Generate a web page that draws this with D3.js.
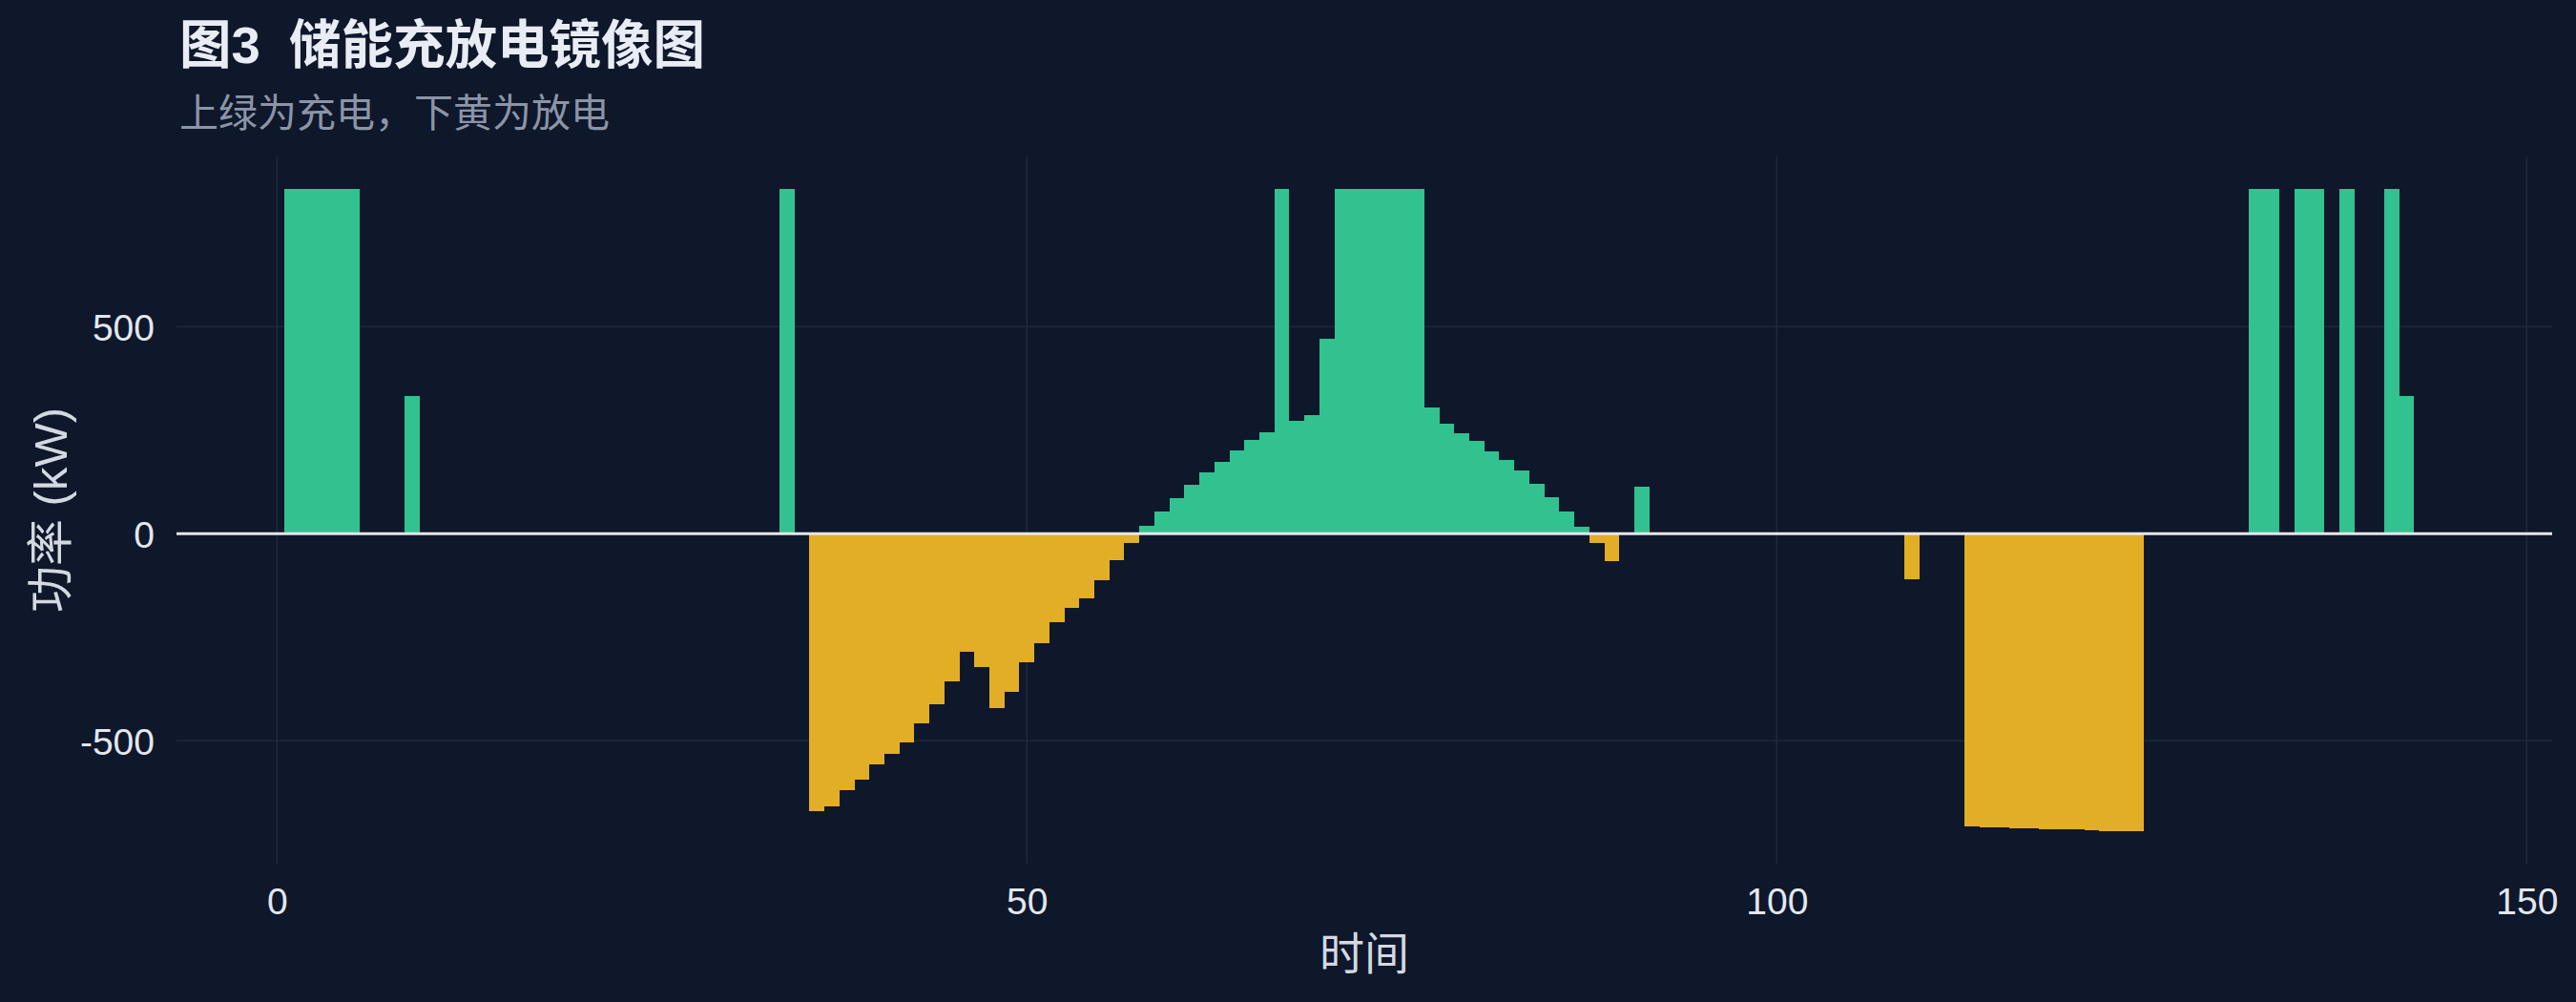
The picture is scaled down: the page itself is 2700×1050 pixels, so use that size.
<!DOCTYPE html>
<html>
<head>
<meta charset="utf-8">
<script src="https://cdn.jsdelivr.net/npm/d3@7"></script>
<style>
  html, body { margin: 0; padding: 0; background: #0f172a; }
  svg { display: block; }
</style>
</head>
<body>
<svg id="chart" width="2700" height="1050"></svg>
<script>
// ---- data ----
const titleText = "图3  储能充放电镜像图";
const subtitleText = "上绿为充电，下黄为放电";
const xLabel = "时间";
const yLabel = "功率 (kW)";
const xTicks = [0, 50, 100, 150];
const yTicks = [-500, 0, 500];
const xTickLabels = ["0", "50", "100", "150"];
const yTickLabels = ["-500", "0", "500"];

// time index 1..144
const timeSteps = [
  1,2,3,4,5,6,7,8,9,10,11,12,13,14,15,16,17,18,19,20,21,22,23,24,
  25,26,27,28,29,30,31,32,33,34,35,36,37,38,39,40,41,42,43,44,45,46,47,48,
  49,50,51,52,53,54,55,56,57,58,59,60,61,62,63,64,65,66,67,68,69,70,71,72,
  73,74,75,76,77,78,79,80,81,82,83,84,85,86,87,88,89,90,91,92,93,94,95,96,
  97,98,99,100,101,102,103,104,105,106,107,108,109,110,111,112,113,114,115,116,117,118,119,120,
  121,122,123,124,125,126,127,128,129,130,131,132,133,134,135,136,137,138,139,140,141,142,143,144
];

// storage power (kW): + charge, - discharge
const power = [
  // 1-24
  833, 833, 833, 833, 833, 0, 0, 0, 333, 0, 0, 0, 0, 0, 0, 0, 0, 0, 0, 0, 0, 0, 0, 0,
  // 25-48
  0, 0, 0, 0, 0, 0, 0, 0, 0, 833, 0, -669, -658, -619, -593, -558, -531, -503, -457, -411, -357, -284, -321, -420,
  // 49-72
  -383, -311, -265, -214, -180, -156, -112, -64, -22, 19, 54, 86, 118, 148, 173, 201, 226, 245, 833, 272, 286, 470, 833, 833,
  // 73-96
  833, 833, 833, 833, 304, 265, 242, 224, 199, 178, 153, 121, 88, 54, 17, -22, -66, 0, 114, 0, 0, 0, 0, 0,
  // 97-120
  0, 0, 0, 0, 0, 0, 0, 0, 0, 0, 0, 0, -110, 0, 0, 0, -707, -709, -709, -712, -712, -714, -714, -714,
  // 121-144
  -716, -719, -719, -719, 0, 0, 0, 0, 0, 0, 0, 833, 833, 0, 833, 833, 0, 833, 0, 0, 833, 333, 0, 0
];

// ---- styling ----
const W = 2700, H = 1050;
const panel = { left: 185, right: 2675, top: 164, bottom: 905 };
const colors = {
  bg: "#0f172a",
  grid: "#1e293b",
  charge: "#32c290",
  discharge: "#e2ae26",
  zero: "#e5e7eb",
  title: "#e8edf5",
  subtitle: "#8b95a7",
  tick: "#e2e8f0",
  axisTitle: "#d3d9e2"
};
const latin = "'Liberation Sans', Arial, 'Noto Sans CJK SC', sans-serif";
const cjk = "'Noto Sans CJK SC', 'Liberation Sans', sans-serif";

const data = timeSteps.map((t, i) => ({ t, v: power[i] }));

const svg = d3.select("#chart");
svg.append("rect").attr("width", W).attr("height", H).attr("fill", colors.bg);

// scales with ggplot-like 5% expansion
const xMin = d3.min(timeSteps) - 0.5, xMax = d3.max(timeSteps) + 0.5;
const xPad = (xMax - xMin) * 0.05;
const x = d3.scaleLinear().domain([xMin - xPad, xMax + xPad]).range([panel.left, panel.right]);

const vMin = Math.min(0, d3.min(power)), vMax = Math.max(0, d3.max(power));
const yPad = (vMax - vMin) * 0.05;
const y = d3.scaleLinear().domain([vMin - yPad, vMax + yPad]).range([panel.bottom, panel.top]);

// gridlines
const g = svg.append("g");
g.selectAll(".hgrid").data(yTicks).join("line")
  .attr("x1", panel.left).attr("x2", panel.right)
  .attr("y1", d => y(d)).attr("y2", d => y(d))
  .attr("stroke", colors.grid).attr("stroke-width", 1.6);
g.selectAll(".vgrid").data(xTicks).join("line")
  .attr("x1", d => x(d)).attr("x2", d => x(d))
  .attr("y1", panel.top).attr("y2", panel.bottom)
  .attr("stroke", colors.grid).attr("stroke-width", 1.6);

// bars
svg.append("g").selectAll("rect").data(data.filter(d => d.v !== 0)).join("rect")
  .attr("x", d => x(d.t - 0.5))
  .attr("width", d => x(d.t + 0.5) - x(d.t - 0.5))
  .attr("y", d => Math.min(y(0), y(d.v)))
  .attr("height", d => Math.abs(y(d.v) - y(0)))
  .attr("fill", d => d.v > 0 ? colors.charge : colors.discharge)
  .attr("shape-rendering", "crispEdges");

// zero line
svg.append("line")
  .attr("x1", panel.left).attr("x2", panel.right)
  .attr("y1", y(0)).attr("y2", y(0))
  .attr("stroke", colors.zero).attr("stroke-width", 3);

// axes (text only, like theme_minimal)
const xAxis = d3.axisBottom(x).tickValues(xTicks).tickSize(0).tickPadding(0)
  .tickFormat((d, i) => xTickLabels[i]);
const xg = svg.append("g").attr("transform", `translate(0,${panel.bottom})`).call(xAxis);
xg.select(".domain").remove();
xg.selectAll("text")
  .attr("y", 53).attr("dy", null)
  .attr("fill", colors.tick)
  .style("font-family", latin).style("font-size", "39px");

const yAxis = d3.axisLeft(y).tickValues(yTicks).tickSize(0).tickPadding(0)
  .tickFormat((d, i) => yTickLabels[i]);
const yg = svg.append("g").attr("transform", `translate(162,0)`).call(yAxis);
yg.select(".domain").remove();
yg.selectAll("text")
  .attr("x", 0).attr("dy", "0.36em")
  .attr("fill", colors.tick)
  .style("font-family", latin).style("font-size", "39px");

// titles
svg.append("text").attr("x", 188).attr("y", 66)
  .attr("fill", colors.title)
  .style("font-family", latin).style("font-weight", "bold").style("font-size", "54.5px")
  .style("white-space", "pre").attr("xml:space", "preserve")
  .text(titleText);

svg.append("text").attr("x", 188).attr("y", 133)
  .attr("fill", colors.subtitle)
  .style("font-family", cjk).style("font-size", "41px")
  .text(subtitleText);

svg.append("text")
  .attr("x", (panel.left + panel.right) / 2).attr("y", 1016)
  .attr("text-anchor", "middle")
  .attr("fill", colors.axisTitle)
  .style("font-family", cjk).style("font-size", "47px")
  .text(xLabel);

svg.append("text")
  .attr("transform", `translate(70,${(panel.top + panel.bottom) / 2}) rotate(-90)`)
  .attr("text-anchor", "middle")
  .attr("fill", colors.axisTitle)
  .style("font-family", latin).style("font-size", "49px")
  .text(yLabel);
</script>
</body>
</html>
